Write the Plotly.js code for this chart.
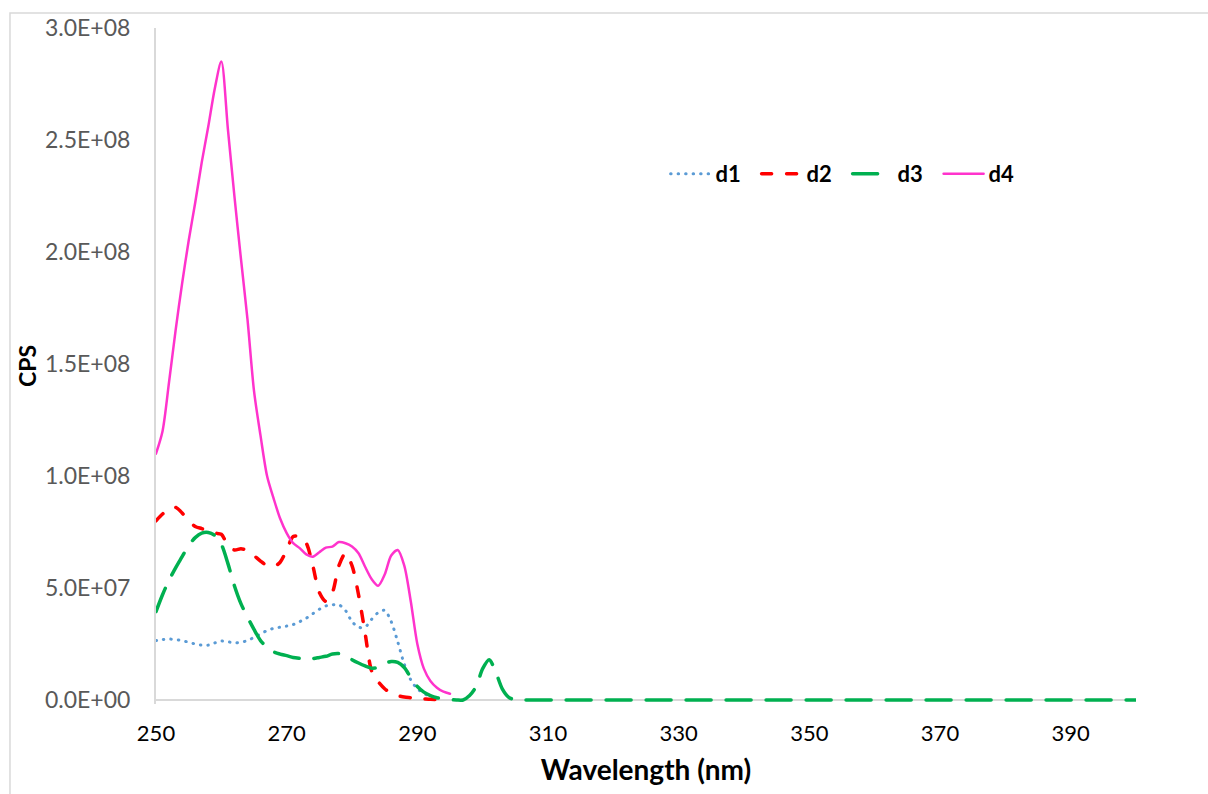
<!DOCTYPE html>
<html>
<head>
<meta charset="utf-8">
<script src="https://cdn.plot.ly/plotly-3.0.1.min.js"></script>
<style>
  html, body { margin: 0; padding: 0; background: #fff; }
  #chart { width: 1208px; height: 794px; }
  .scatterlayer path.js-line, .legend path.js-line { stroke-linecap: round; }
</style>
</head>
<body>
<div id="chart"></div>
<script>
// Wavelength (nm) for d1, d2, d4
const wl = [250,251,252,253,254,255,256,257,258,259,260,261,262,263,264,265,266,267,268,269,270,
            271,272,273,274,275,276,277,278,279,280,281,282,283,284,285,286,287,288,289,290,
            291,292,293,294,295];
// Wavelength (nm) for d3 (extends to 400)
const wl3 = [250,251,252,253,254,255,256,257,258,259,260,261,262,263,264,265,266,267,268,269,270,
             271,272,273,274,275,276,277,278,279,280,281,282,283,284,285,286,287,288,289,290,
             291,292,293,294,295,296,297,298,299,300,301,302,303,304,305,306,307,400];

const d1 = [2.65e7,2.70e7,2.72e7,2.70e7,2.65e7,2.58e7,2.50e7,2.45e7,2.45e7,2.55e7,2.63e7,
            2.60e7,2.55e7,2.58e7,2.65e7,2.80e7,2.95e7,3.10e7,3.20e7,3.25e7,3.30e7,
            3.37e7,3.50e7,3.65e7,3.85e7,4.05e7,4.20e7,4.25e7,4.25e7,4.00e7,3.50e7,
            3.25e7,3.25e7,3.60e7,3.90e7,4.00e7,3.50e7,2.60e7,1.60e7,0.90e7,0.50e7,
            0.30e7,0.15e7,0.08e7,null,null];

const d2 = [8.00e7,8.30e7,8.55e7,8.60e7,8.35e7,8.00e7,7.75e7,7.65e7,7.55e7,7.45e7,7.40e7,
            6.90e7,6.70e7,6.75e7,6.68e7,6.45e7,6.20e7,6.00e7,5.95e7,6.15e7,6.70e7,
            7.30e7,7.30e7,7.00e7,6.00e7,4.80e7,4.40e7,4.80e7,6.00e7,6.55e7,6.00e7,
            4.70e7,3.00e7,1.30e7,0.82e7,0.50e7,0.30e7,0.20e7,0.13e7,0.10e7,0.07e7,
            0.05e7,0.03e7,0.02e7,null,null];

const d3 = [3.95e7,4.70e7,5.35e7,5.90e7,6.40e7,6.90e7,7.25e7,7.45e7,7.48e7,7.35e7,6.95e7,
            6.10e7,5.10e7,4.30e7,3.70e7,3.15e7,2.65e7,2.35e7,2.15e7,2.05e7,1.98e7,
            1.90e7,1.86e7,1.83e7,1.85e7,1.90e7,1.95e7,2.05e7,2.07e7,1.98e7,1.80e7,
            1.65e7,1.52e7,1.42e7,1.45e7,1.62e7,1.72e7,1.68e7,1.45e7,1.00e7,0.60e7,
            0.35e7,0.20e7,0.10e7,0.05e7,0.02e7,0,0,0.20e7,0.60e7,1.40e7,1.80e7,1.25e7,0.50e7,0.12e7,0,0,0,0];

const d4 = [1.10e8,1.20e8,1.42e8,1.65e8,1.86e8,2.05e8,2.22e8,2.40e8,2.56e8,2.73e8,2.85e8,
            2.55e8,2.25e8,1.97e8,1.70e8,1.38e8,1.18e8,1.00e8,0.90e8,0.81e8,0.745e8,
            0.70e8,0.678e8,0.650e8,0.640e8,0.660e8,0.680e8,0.685e8,0.705e8,0.700e8,0.685e8,
            0.655e8,0.595e8,0.540e8,0.510e8,0.560e8,0.645e8,0.670e8,0.600e8,0.440e8,0.250e8,
            0.140e8,0.085e8,0.055e8,0.037e8,0.028e8];

const yTickVals = [0, 5e7, 1e8, 1.5e8, 2e8, 2.5e8, 3e8];
const yTickText = ["0.0E+00","5.0E+07","1.0E+08","1.5E+08","2.0E+08","2.5E+08","3.0E+08"];
const xTickVals = [250,270,290,310,330,350,370,390];

const traces = [
  {x: wl, y: d1, name: 'd1', mode: 'lines', line: {color: '#5B9BD5', width: 3, dash: '0.5px,7px', shape: 'spline', smoothing: 0.8}},
  {x: wl, y: d2, name: 'd2', mode: 'lines', line: {color: '#FF0000', width: 3.5, dash: '10px,15px', shape: 'spline', smoothing: 0.8}},
  {x: wl3, y: d3, name: 'd3', mode: 'lines', line: {color: '#00B050', width: 3.5, dash: '25px,15px', shape: 'spline', smoothing: 0.8}},
  {x: wl, y: d4, name: 'd4', mode: 'lines', line: {color: '#FF33CC', width: 2.5, shape: 'spline', smoothing: 0.8}}
];

const layout = {
  width: 1208, height: 794,
  margin: {l: 156, r: 72, t: 28, b: 90},
  paper_bgcolor: '#ffffff', plot_bgcolor: '#ffffff',
  font: {family: 'Lato, "Open Sans", sans-serif', color: '#000'},
  showlegend: true,
  legend: {orientation: 'h', x: 0.52, y: 0.815, xanchor: 'left', yanchor: 'top',
           font: {family: 'Lato, sans-serif', size: 22, color: '#000', weight: 'bold'},
           bgcolor: 'rgba(0,0,0,0)', itemwidth: 40, entrywidth: 36, entrywidthmode: 'pixels'},
  xaxis: {
    range: [250, 400], tickmode: 'array', tickvals: xTickVals,
    showgrid: false, zeroline: false, showline: false,
    ticks: 'outside', ticklen: 10, tickcolor: 'rgba(0,0,0,0)',
    tickfont: {family: 'Lato, sans-serif', size: 22, color: '#000'},
    title: {text: 'Wavelength (nm)', font: {family: 'Lato, sans-serif', size: 28, color: '#000', weight: 'bold'}, standoff: 14},
    fixedrange: true
  },
  yaxis: {
    range: [-1785714, 3e8], tickmode: 'array', tickvals: yTickVals, ticktext: yTickText,
    showgrid: false, zeroline: true, zerolinecolor: '#d9d9d9', zerolinewidth: 2,
    showline: true, linecolor: '#d9d9d9', linewidth: 2,
    ticks: 'outside', ticklen: 19, tickcolor: 'rgba(0,0,0,0)',
    tickfont: {family: 'Lato, sans-serif', size: 23, color: '#595959'},
    title: {text: 'CPS', font: {family: 'Lato, sans-serif', size: 23, color: '#000', weight: 'bold'}, standoff: 2},
    fixedrange: true
  },
  shapes: [
    {type: 'rect', xref: 'paper', yref: 'paper', x0: -0.149, x1: 1.2, y0: -0.3, y1: 1.0223,
     line: {color: '#d9d9d9', width: 1.5}, fillcolor: 'rgba(0,0,0,0)', layer: 'below'}
  ]
};

Plotly.newPlot('chart', traces, layout, {displayModeBar: false, staticPlot: true});
</script>
</body>
</html>
